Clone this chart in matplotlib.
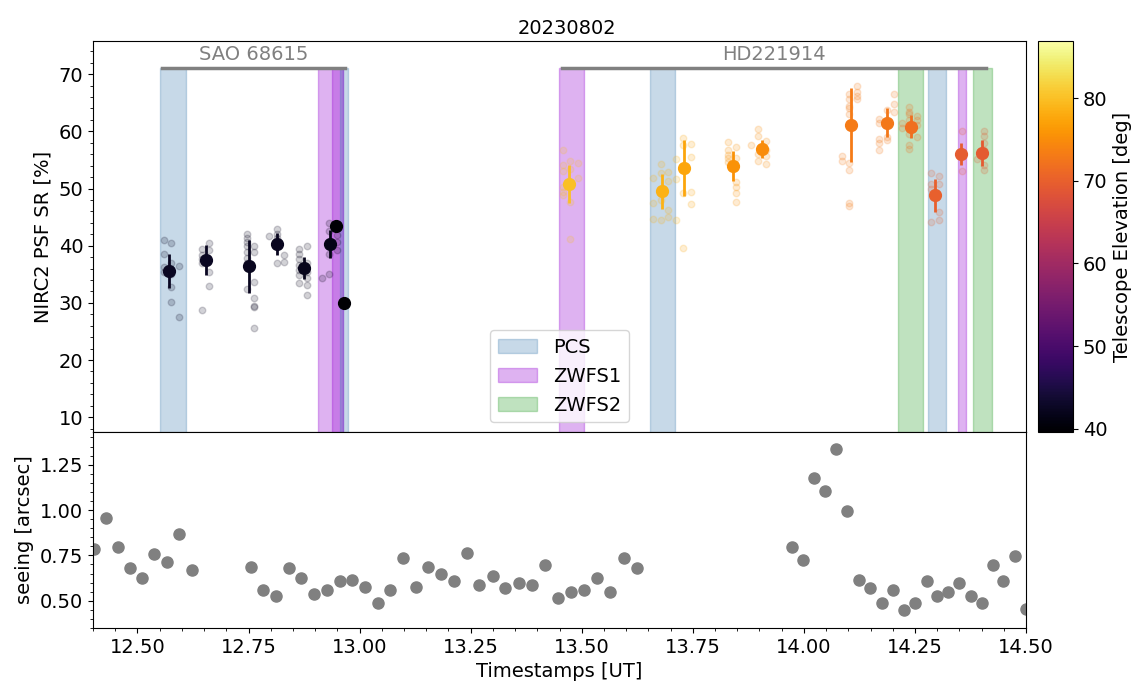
#!/usr/bin/env python3
# NIRC2 Strehl ratio and seeing for the night of 20230802
import numpy as np
import matplotlib
matplotlib.use("Agg")
from matplotlib import pyplot as plt
from matplotlib.colors import Normalize
from matplotlib.cm import ScalarMappable
from matplotlib.patches import Patch
from matplotlib.ticker import MultipleLocator

plt.rcParams["font.size"] = 14

night = "20230802"

# mean SR per data set (time [UT hr], SR [%], error, elevation [deg])
mean_t = [12.571, 12.654, 12.751, 12.813, 12.874, 12.934, 12.947, 12.965,
          13.471, 13.681, 13.730, 13.840, 13.905, 14.105, 14.186, 14.242, 14.296, 14.354, 14.401]
mean_sr = [35.6, 37.5, 36.4, 40.3, 36.1, 40.3, 43.4, 29.9,
           50.8, 49.5, 53.6, 54.0, 56.9, 61.1, 61.5, 60.8, 48.8, 56.0, 56.2]
mean_err = [3.0, 2.6, 4.6, 1.9, 2.0, 2.5, 0.0, 0.0,
            3.3, 3.0, 4.9, 2.6, 1.5, 6.4, 2.5, 2.0, 2.9, 1.9, 2.2]
mean_elev = [42.5, 42.5, 42.3, 42.2, 42.0, 41.5, 39.6, 39.6,
             80.0, 78.6, 77.5, 75.6, 75.0, 73.2, 72.7, 71.8, 70.0, 69.4, 69.3]

# individual frames per data set
frame_t = [
    [12.560, 12.576, 12.560, 12.576, 12.560, 12.560, 12.594, 12.576, 12.576, 12.594, 12.576],
    [12.645, 12.661, 12.645, 12.645, 12.661, 12.661, 12.661, 12.645, 12.645],
    [12.746, 12.746, 12.746, 12.746, 12.746, 12.746, 12.763, 12.763, 12.746, 12.763, 12.763, 12.763, 12.763, 12.763, 12.746],
    [12.797, 12.813, 12.813, 12.813, 12.813, 12.830, 12.830, 12.813],
    [12.864, 12.881, 12.864, 12.864, 12.864, 12.864, 12.881, 12.881, 12.881, 12.864, 12.881, 12.881, 12.864],
    [12.915, 12.932, 12.932, 12.932, 12.949, 12.949, 12.932, 12.949],
    [], [],
    [13.457, 13.457, 13.457, 13.457, 13.457, 13.474, 13.474, 13.474, 13.474, 13.492, 13.492, 13.457],
    [13.661, 13.661, 13.661, 13.678, 13.678, 13.678, 13.695, 13.695, 13.695, 13.695, 13.712, 13.712, 13.712, 13.678],
    [13.729, 13.729, 13.729, 13.729, 13.746, 13.746, 13.746, 13.746],
    [13.830, 13.830, 13.830, 13.830, 13.830, 13.847, 13.847, 13.847, 13.847, 13.847, 13.847],
    [13.880, 13.897, 13.897, 13.897, 13.897, 13.915, 13.915, 13.915, 13.915],
    [14.085, 14.085, 14.102, 14.102, 14.102, 14.102, 14.102, 14.102, 14.102, 14.102, 14.102, 14.119, 14.119, 14.119, 14.119],
    [14.169, 14.169, 14.169, 14.169, 14.169, 14.186, 14.186, 14.186, 14.203, 14.203, 14.203],
    [14.220, 14.220, 14.237, 14.237, 14.237, 14.237, 14.237, 14.237, 14.237, 14.255, 14.255, 14.255, 14.255],
    [14.287, 14.287, 14.287, 14.287, 14.305, 14.305, 14.305, 14.305],
    [14.356, 14.356],
    [14.389, 14.406, 14.406, 14.406, 14.406, 14.406, 14.406],
]
frame_sr = [
    [41.0, 40.4, 38.6, 37.0, 36.2, 35.4, 36.5, 32.8, 30.2, 27.5, 35.1],
    [39.5, 40.5, 38.3, 36.9, 39.2, 35.4, 33.0, 28.7, 37.6],
    [42.1, 41.4, 40.7, 39.9, 38.9, 37.8, 39.9, 38.9, 32.5, 33.7, 30.9, 29.4, 29.2, 25.6, 36.9],
    [41.7, 42.9, 42.1, 41.3, 37.0, 38.3, 37.1, 40.4],
    [39.5, 40.0, 38.6, 37.6, 36.7, 35.7, 36.9, 35.4, 34.3, 33.4, 33.1, 31.3, 34.8],
    [34.4, 35.0, 43.9, 42.6, 41.8, 39.3, 38.6, 40.7],
    [], [],
    [56.7, 54.1, 53.1, 50.3, 48.8, 54.8, 53.4, 47.7, 41.1, 54.4, 51.9, 49.4],
    [51.9, 47.5, 44.7, 54.3, 52.8, 44.5, 52.9, 51.3, 46.2, 45.0, 55.1, 51.6, 44.5, 48.0],
    [58.8, 57.6, 49.2, 39.6, 57.8, 55.5, 49.4, 47.3],
    [58.1, 56.7, 55.8, 55.3, 54.7, 57.3, 51.2, 50.3, 49.3, 47.7, 55.3],
    [57.6, 60.4, 59.2, 56.1, 54.8, 58.3, 55.7, 54.3, 56.8],
    [55.7, 54.8, 66.6, 65.7, 64.5, 64.0, 63.0, 54.4, 53.3, 47.4, 47.0, 67.9, 66.9, 66.2, 65.6],
    [62.2, 61.5, 58.6, 57.9, 56.8, 63.7, 59.0, 58.5, 66.6, 64.7, 63.4],
    [61.4, 60.6, 64.3, 63.4, 63.0, 62.0, 59.5, 57.6, 56.9, 62.7, 62.0, 59.0, 61.1],
    [52.8, 50.8, 50.0, 44.2, 52.2, 50.8, 45.9, 44.5],
    [60.0, 53.0],
    [55.1, 60.0, 59.2, 57.9, 54.1, 53.3, 56.7],
]

# wavefront sensor / calibration intervals [UT hr]
span_start = [12.551, 12.906, 12.939, 12.956, 13.449, 13.654, 14.211, 14.279, 14.346, 14.381]
span_end = [12.609, 12.963, 12.963, 12.975, 13.505, 13.710, 14.269, 14.320, 14.365, 14.423]
span_kind = ["PCS", "ZWFS1", "ZWFS1", "PCS", "ZWFS1", "PCS", "ZWFS2", "PCS", "ZWFS1", "ZWFS2"]

targets = ["SAO 68615", "HD221914"]
target_start = [12.556, 13.456]
target_end = [12.967, 14.410]

# seeing
seeing_t = [12.402, 12.429, 12.456, 12.483, 12.510, 12.538, 12.566, 12.594, 12.622,
            12.756, 12.783, 12.812, 12.840, 12.869, 12.898, 12.926, 12.955, 12.984, 13.012,
            13.041, 13.069, 13.098, 13.126, 13.155, 13.184, 13.213, 13.241, 13.269, 13.300,
            13.328, 13.358, 13.387, 13.417, 13.446, 13.475, 13.504, 13.534, 13.564, 13.594,
            13.624, 13.973, 13.999, 14.023, 14.048, 14.072, 14.098, 14.124, 14.149, 14.175,
            14.200, 14.226, 14.251, 14.276, 14.300, 14.325, 14.350, 14.375, 14.400, 14.425,
            14.449, 14.475, 14.499]
seeing = [0.786, 0.957, 0.795, 0.679, 0.627, 0.757, 0.716, 0.866, 0.668,
          0.686, 0.557, 0.527, 0.679, 0.627, 0.538, 0.557, 0.607, 0.616, 0.577,
          0.488, 0.557, 0.736, 0.577, 0.686, 0.647, 0.607, 0.766, 0.588, 0.636,
          0.568, 0.597, 0.588, 0.697, 0.518, 0.546, 0.557, 0.627, 0.546, 0.736,
          0.679, 0.796, 0.727, 1.175, 1.105, 1.334, 0.995, 0.616, 0.568, 0.488,
          0.557, 0.447, 0.488, 0.607, 0.527, 0.546, 0.597, 0.527, 0.488, 0.697,
          0.607, 0.747, 0.457]

span_colors = {"PCS": "steelblue", "ZWFS1": "darkviolet", "ZWFS2": "tab:green"}

sr_lim = (7.4, 75.8)
span_top = 71
cmap = plt.get_cmap("inferno")
norm = Normalize(vmin=39.6, vmax=86.9)

fig = plt.figure(figsize=(11.33, 6.85), dpi=100)
ax = fig.add_axes([0.0821, 0.3693, 0.8235, 0.5708])
ax2 = fig.add_axes([0.0821, 0.0832, 0.8235, 0.2861], sharex=ax)
cax = fig.add_axes([0.9162, 0.3693, 0.0309, 0.5708])

for x0, x1, kind in zip(span_start, span_end, span_kind):
    ax.fill_between([x0, x1], sr_lim[0] - 5, span_top, color=span_colors[kind], alpha=0.3, lw=1)

for name, x0, x1 in zip(targets, target_start, target_end):
    ax.plot([x0, x1], [span_top, span_top], color="grey", lw=2.5)
    ax.text((x0 + x1) / 2, span_top + 0.7, name, color="grey", ha="center", va="bottom", fontsize=14)

for i in range(len(mean_t)):
    c = cmap(norm(mean_elev[i]))
    if len(frame_t[i]) > 0:
        ax.scatter(frame_t[i], frame_sr[i], s=22, color=c, alpha=0.18)
    if mean_err[i] > 0:
        ax.errorbar(mean_t[i], mean_sr[i], yerr=mean_err[i], fmt="o", ms=8.5, color=c, elinewidth=2, capsize=0)
    else:
        ax.plot(mean_t[i], mean_sr[i], "o", ms=8.5, color=c)

legend_elements = [Patch(facecolor=span_colors[k], edgecolor=span_colors[k], alpha=0.3, label=k)
                   for k in ["PCS", "ZWFS1", "ZWFS2"]]
ax.legend(handles=legend_elements, loc="lower center", fontsize=14)

ax.set_ylim(*sr_lim)
ax.set_ylabel("NIRC2 PSF SR [%]")
ax.yaxis.set_minor_locator(MultipleLocator(2))
ax.tick_params(axis="x", labelbottom=False, length=0, which="both")

ax2.plot(seeing_t, seeing, "o", color="grey", ms=8)
ax2.set_xlim(12.4, 14.5)
ax2.set_ylim(0.35, 1.43)
ax2.set_yticks([0.5, 0.75, 1.0, 1.25])
ax2.yaxis.set_minor_locator(MultipleLocator(0.05))
ax2.xaxis.set_minor_locator(MultipleLocator(0.05))
ax2.set_ylabel("seeing [arcsec]")
ax2.set_xlabel("Timestamps [UT]")

cb = fig.colorbar(ScalarMappable(norm=norm, cmap=cmap), cax=cax)
cb.set_label("Telescope Elevation [deg]")

fig.suptitle(night, fontsize=14, y=0.972)
fig.savefig("out.png", dpi=100)
